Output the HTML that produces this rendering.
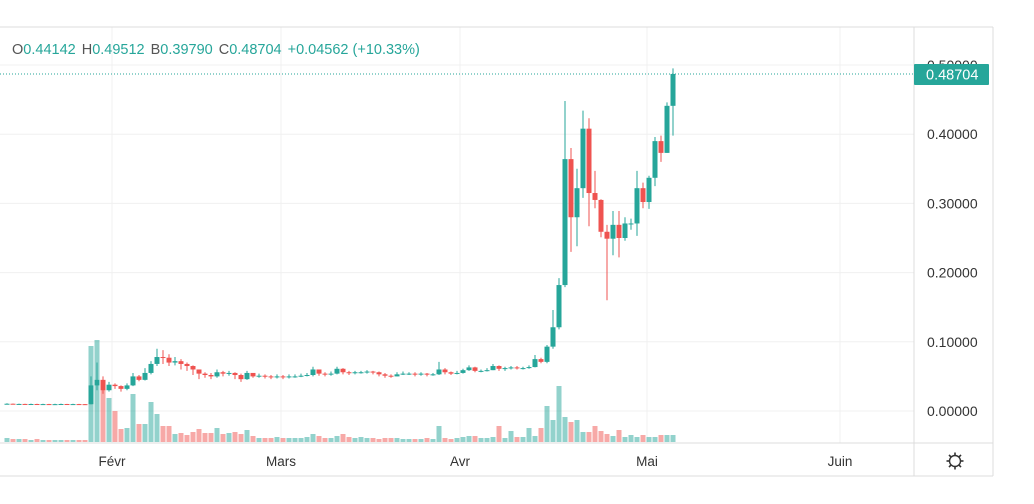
<!DOCTYPE html>
<html><head><meta charset="utf-8"><style>
body{margin:0;background:#fff;font-family:"Liberation Sans",sans-serif;}
svg{display:block}
</style></head><body>
<svg id="chart" width="1034" height="504">
<g id="grid"></g>
<g id="vol"></g>
<g id="candles"></g>
<g id="axis"></g>
<g id="taxis"></g>
<text x="12" y="54" font-size="14.5"><tspan fill="#555">O</tspan><tspan fill="#26a69a">0.44142</tspan><tspan fill="#555" dx="6">H</tspan><tspan fill="#26a69a">0.49512</tspan><tspan fill="#555" dx="6">B</tspan><tspan fill="#26a69a">0.39790</tspan><tspan fill="#555" dx="6">C</tspan><tspan fill="#26a69a">0.48704</tspan><tspan fill="#26a69a" dx="6">+0.04562 (+10.33%)</tspan></text>
</svg>
<script>
const closes=[0.0105,0.0100,0.0102,0.0098,0.0101,0.0099,0.0100,0.0097,0.0099,0.0101,0.0098,0.0100,0.0099,0.0098,
0.037,0.045,0.030,0.038,0.036,0.032,0.037,0.050,0.045,0.055,0.068,0.078,0.077,0.070,0.072,0.068,0.065,0.060,0.054,0.052,0.050,0.056,0.054,0.055,0.052,0.046,0.055,0.050,0.051,0.050,0.049,0.050,0.049,0.050,0.050,0.051,0.052,0.060,0.054,0.053,0.054,0.061,0.056,0.055,0.056,0.056,0.057,0.056,0.053,0.051,0.050,0.053,0.054,0.054,0.053,0.054,0.053,0.053,0.060,0.056,0.054,0.055,0.059,0.063,0.058,0.058,0.059,0.065,0.061,0.062,0.063,0.062,
0.062,0.0635,0.075,0.071,0.093,0.121,0.182,0.364,0.280,0.322,0.408,0.315,0.305,0.259,0.249,0.269,0.250,0.271,0.271,0.322,0.302,0.337,0.390,0.373,0.441,0.48704];
const highs=[0.0112,0.0108,0.0106,0.0104,0.0106,0.0104,0.0104,0.0103,0.0104,0.0106,0.0103,0.0104,0.0103,0.0102,
0.050,0.070,0.050,0.042,0.040,0.037,0.040,0.055,0.052,0.062,0.072,0.090,0.088,0.082,0.078,0.075,0.070,0.066,0.060,0.056,0.055,0.060,0.058,0.058,0.056,0.054,0.058,0.054,0.054,0.053,0.052,0.053,0.052,0.053,0.053,0.054,0.055,0.064,0.060,0.056,0.057,0.064,0.062,0.058,0.058,0.058,0.059,0.058,0.057,0.055,0.053,0.056,0.057,0.056,0.056,0.056,0.055,0.055,0.071,0.062,0.057,0.058,0.061,0.066,0.064,0.060,0.062,0.068,0.066,0.064,0.065,0.065,
0.064,0.066,0.081,0.077,0.0954,0.146,0.192,0.448,0.380,0.350,0.434,0.423,0.347,0.306,0.269,0.289,0.289,0.280,0.278,0.347,0.330,0.340,0.396,0.398,0.446,0.49512];
const lows=[0.0095,0.0094,0.0096,0.0093,0.0095,0.0094,0.0095,0.0092,0.0094,0.0096,0.0093,0.0095,0.0094,0.0093,
0.0095,0.030,0.025,0.028,0.032,0.028,0.030,0.036,0.043,0.044,0.053,0.065,0.068,0.065,0.066,0.060,0.058,0.052,0.046,0.048,0.046,0.048,0.050,0.051,0.046,0.042,0.045,0.048,0.048,0.047,0.046,0.047,0.046,0.047,0.048,0.049,0.050,0.050,0.051,0.050,0.051,0.053,0.053,0.052,0.053,0.054,0.054,0.053,0.050,0.048,0.048,0.050,0.052,0.052,0.050,0.051,0.050,0.051,0.052,0.053,0.052,0.053,0.054,0.058,0.056,0.056,0.057,0.059,0.058,0.058,0.060,0.060,
0.060,0.061,0.063,0.069,0.069,0.090,0.118,0.179,0.230,0.238,0.308,0.267,0.293,0.251,0.160,0.225,0.222,0.246,0.262,0.253,0.293,0.292,0.325,0.360,0.373,0.398];
const opens0=0.0100;
const volumes=[4,3,3,3,2,3,2,2,2,2,2,2,2,2,
96,102,57,44,31,13,14,48,18,18,40,28,16,16,8,9,7,10,13,9,9,14,8,9,10,8,12,6,4,4,4,5,4,4,4,4,5,8,6,4,4,6,8,5,4,5,4,4,3,4,4,4,3,3,3,3,4,3,16,4,3,4,5,6,6,4,4,5,16,4,11,5,
5,14,6,14,36,22,56,25,20,22,10,10,16,11,8,6,12,5,7,5,7,5,5,7,7,7];
const priceTicks=[0.5,0.4,0.3,0.2,0.1,0.0];
const tickLabels=["0.50000","0.40000","0.30000","0.20000","0.10000","0.00000"];
const monthLabels=["Févr","Mars","Avr","Mai","Juin"];
const monthPx=[112,281,460,647,840];

const NS="http://www.w3.org/2000/svg";
function mk(tag,attrs,parent){const e=document.createElementNS(NS,tag);for(const k in attrs)e.setAttribute(k,attrs[k]);parent.appendChild(e);return e;}
const N=closes.length;
const xScale=i=>673-(N-1-i)*6;
const yScale=v=>411-v*692;
const vScale=v=>v;
const volBase=442;
const G=document.getElementById('grid'),V=document.getElementById('vol'),C=document.getElementById('candles'),A=document.getElementById('axis'),T=document.getElementById('taxis');
priceTicks.forEach((p,k)=>{
 const l=mk('line',{x1:0,x2:914,y1:yScale(p),y2:yScale(p),stroke:'#f0f0f0'},G);
 
 
 const t=mk('text',{x:927,y:yScale(p)+5,'font-size':14,fill:'#333'},A);
 t.textContent=tickLabels[k];
 
 
});
monthPx.forEach((x,k)=>{
 const l=mk('line',{x1:x,x2:x,y1:27,y2:443,stroke:'#f0f0f0'},G);
 
 
 const t=mk('text',{x:x,y:466,'font-size':13.5,fill:'#333','text-anchor':'middle'},T);
 t.textContent=monthLabels[k];
 
 
});
for(let i=0;i<N;i++){
 const o=i===0?opens0:closes[i-1],c=closes[i];
 const up=c>=o,col=up?'#26a69a':'#ef5350';
 const x=xScale(i);
 const vb=mk('rect',{x:x-2.5,y:volBase-vScale(volumes[i]),width:5,height:vScale(volumes[i]),fill:up?'rgba(38,166,154,0.5)':'rgba(239,83,80,0.5)'},V);
 
 
 const w=mk('line',{x1:x,x2:x,y1:yScale(highs[i]),y2:yScale(lows[i]),stroke:col,'stroke-width':1},C);
 
 
 const top=yScale(Math.max(o,c)),h=Math.max(1,Math.abs(yScale(o)-yScale(c)));
 const b=mk('rect',{x:x-2.5,y:top,width:5,height:h,fill:col},C);
 
 
}
const last=closes[N-1],ly=yScale(last);
const dl=mk('line',{x1:0,x2:914,y1:ly,y2:ly,stroke:'#26a69a','stroke-dasharray':'1 2'},C);


const svg=document.getElementById('chart');
[[0,27,993,27],[993,27,993,476],[0,476,993,476],[914,27,914,476],[0,443,993,443]].forEach(a=>{
 const l=mk('line',{x1:a[0],y1:a[1],x2:a[2],y2:a[3],stroke:'#dcdcdc'},svg);
 
 
});
const lb=mk('rect',{x:914,y:ly-10,width:75,height:21,fill:'#26a69a',rx:1},svg);


const lt=mk('text',{x:926,y:ly+5.5,'font-size':14.5,fill:'#fff'},svg);
lt.textContent=last.toFixed(5);


const gear=mk('g',{},svg);


mk('circle',{cx:955,cy:461,r:5.5,fill:'none',stroke:'#333','stroke-width':1.4},gear);
for(let k=0;k<8;k++){const a=k*Math.PI/4;mk('line',{x1:955+Math.cos(a)*5.5,y1:461+Math.sin(a)*5.5,x2:955+Math.cos(a)*8.5,y2:461+Math.sin(a)*8.5,stroke:'#333','stroke-width':1.6},gear);}
</script>
</body></html>
